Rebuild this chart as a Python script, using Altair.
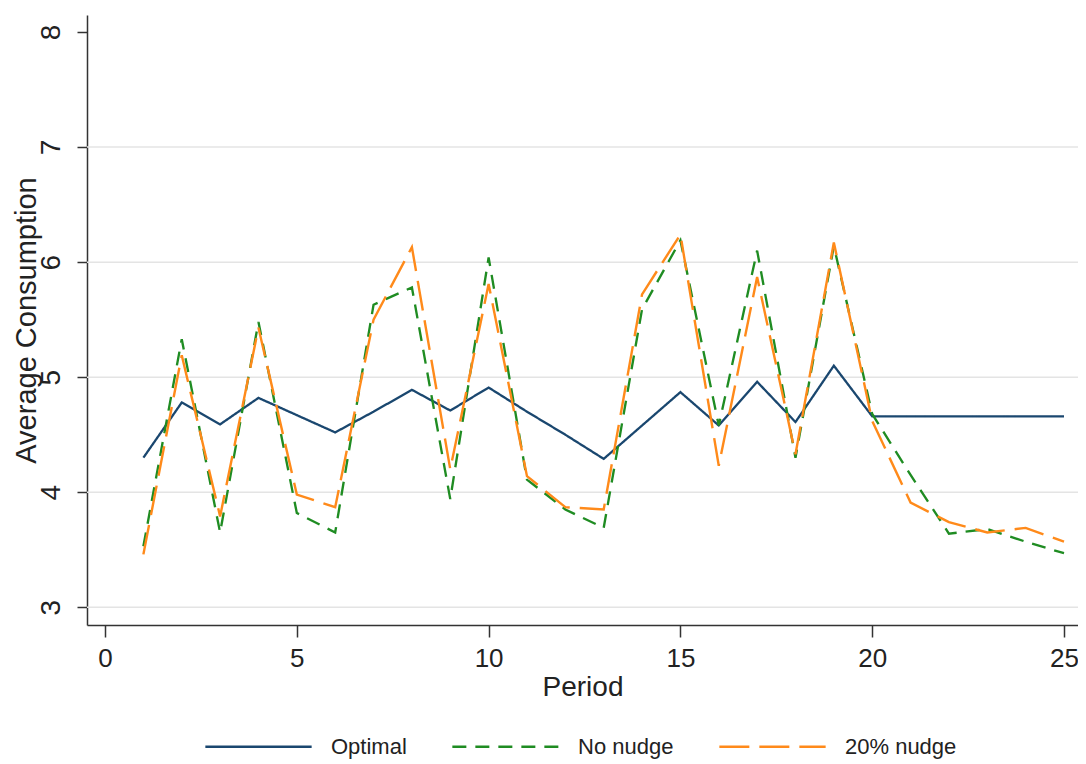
import altair as alt
import pandas as pd

periods = list(range(1, 26))
optimal = [4.30, 4.78, 4.59, 4.82, 4.67, 4.52, 4.70, 4.89, 4.71, 4.91, 4.70, 4.50, 4.29,
           4.58, 4.87, 4.58, 4.96, 4.61, 5.10, 4.66, 4.66, 4.66, 4.66, 4.66, 4.66]
no_nudge = [3.53, 5.33, 3.65, 5.48, 3.82, 3.65, 5.63, 5.78, 3.94, 6.04, 4.11, 3.85, 3.69,
            5.59, 6.19, 4.58, 6.10, 4.30, 6.14, 4.68, 4.15, 3.64, 3.68, 3.57, 3.47]
nudge20 = [3.46, 5.19, 3.79, 5.43, 3.98, 3.87, 5.50, 6.13, 4.20, 5.81, 4.14, 3.87, 3.85,
           5.72, 6.24, 4.23, 5.87, 4.33, 6.17, 4.62, 3.91, 3.74, 3.65, 3.69, 3.57]
series_names = ["Optimal", "No nudge", "20% nudge"]
x_ticks = [0, 5, 10, 15, 20, 25]
y_ticks = [3, 4, 5, 6, 7, 8]
grid_values = [3, 4, 5, 6, 7]

rows = []
for name, vals in zip(series_names, [optimal, no_nudge, nudge20]):
    for p, v in zip(periods, vals):
        rows.append({"Period": p, "Value": v, "Series": name})
df = pd.DataFrame(rows)
grid_df = pd.DataFrame({"v": grid_values})

FONT = "Liberation Sans, Arial, sans-serif"

xscale = alt.Scale(domain=[-0.47, 25.365], nice=False, zero=False)
yscale = alt.Scale(domain=[2.846, 8.148], nice=False, zero=False)

legend_kw = dict(title=None, orient="none", legendX=117, legendY=677,
                 direction="horizontal", symbolType="stroke", symbolSize=11300,
                 labelFontSize=22, labelOffset=18, columnPadding=40, padding=0,
                 labelColor="#222", symbolStrokeWidth=2.6)

grid = alt.Chart(grid_df).mark_rule(color="#e4e4e4", strokeWidth=1.5).encode(
    y=alt.Y("v:Q", scale=yscale)
)

lines = alt.Chart(df).mark_line().encode(
    x=alt.X("Period:Q", scale=xscale,
            axis=alt.Axis(values=x_ticks, title="Period", grid=False, tickSize=12,
                          labelFontSize=26, titleFontSize=28, labelPadding=8,
                          titlePadding=2, labelColor="#222", titleColor="#222",
                          format="d")),
    y=alt.Y("Value:Q", scale=yscale,
            axis=alt.Axis(values=y_ticks, title="Average Consumption", grid=False,
                          tickSize=10, labelAngle=270, labelAlign="center",
                          labelBaseline="bottom", labelFontSize=28, titleFontSize=29,
                          labelPadding=12, titleX=-52, titleBaseline="alphabetic",
                          labelColor="#222", titleColor="#222", format="d")),
    color=alt.Color("Series:N",
                    scale=alt.Scale(domain=series_names,
                                    range=["#1a476f", "#1f8c22", "#ff8a1a"]),
                    legend=alt.Legend(**legend_kw)),
    strokeDash=alt.StrokeDash("Series:N",
                              scale=alt.Scale(domain=series_names,
                                              range=[[1, 0], [14, 9], [30, 10]]),
                              legend=alt.Legend(**legend_kw)),
    strokeWidth=alt.StrokeWidth("Series:N",
                                scale=alt.Scale(domain=series_names, range=[2.3, 2.4, 3.4]),
                                legend=None),
)

chart = alt.layer(grid, lines).properties(
    width=991, height=610,
    autosize=alt.AutoSizeParams(type="none"),
    padding={"left": 79, "top": 7, "right": 0, "bottom": 136},
).configure(font=FONT).configure_view(stroke=None).configure_axis(
    domainColor="#333", tickColor="#333", domainWidth=1.5, tickWidth=1.5,
    labelFont=FONT, titleFont=FONT, titleFontWeight="normal"
).configure_legend(labelFont=FONT)

chart.save("out.html", embed_options={"renderer": "svg", "actions": False})
